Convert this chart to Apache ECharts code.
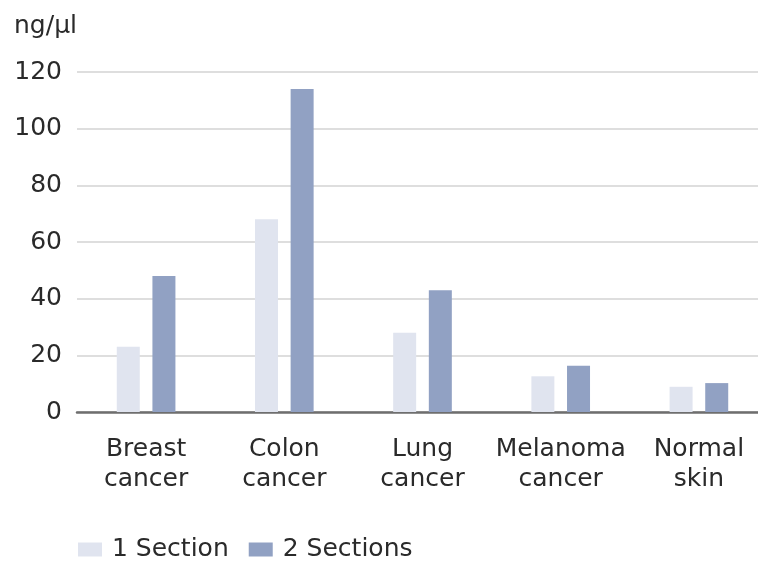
<!DOCTYPE html>
<html>
<head>
<meta charset="utf-8">
<script src="https://cdn.jsdelivr.net/npm/echarts@6/dist/echarts.min.js"></script>
<style>
    html, body { margin: 0; padding: 0; background: #fff; overflow: hidden; }
    /* 图表比窗口略宽，右侧被裁掉，与原图一致 */
    #chart { width: 768px; height: 562px; }
</style>
</head>
<body>
<div id="chart"></div>
<script>
    // 数据
    var categories = ['Breast\ncancer', 'Colon\ncancer', 'Lung\ncancer', 'Melanoma\ncancer', 'Normal\nskin'];
    var oneSection = [23, 68, 28, 12.6, 8.9];
    var twoSections = [48, 114, 43, 16.3, 10.2];
    var yTicks = [0, 20, 40, 60, 80, 100, 120];

    var font = '"DejaVu Sans", sans-serif';
    var textColor = '#2a2a2a';
    var myChart = echarts.init(document.getElementById('chart'));
    var option = {
        animation: false,
        textStyle: { fontFamily: font, color: textColor },
        grid: { left: 77, right: 0, top: 72, bottom: 150 },
        legend: {
            left: 73,
            top: 532,
            itemWidth: 24,
            itemHeight: 14,
            itemGap: 20,
            icon: 'rect',
            textStyle: { fontSize: 25, color: textColor, fontFamily: font, padding: [0, 0, 0, 5] },
            data: ['1 Section', '2 Sections']
        },
        xAxis: {
            type: 'category',
            data: categories,
            axisTick: { show: false },
            axisLine: { lineStyle: { color: '#6e6e6e', width: 2.5 } },
            axisLabel: {
                interval: 0,
                margin: 22,
                fontSize: 25,
                lineHeight: 30,
                color: textColor,
                fontFamily: font
            }
        },
        yAxis: {
            type: 'value',
            min: yTicks[0],
            max: yTicks[yTicks.length - 1],
            interval: 20,
            name: 'ng/μl',
            nameLocation: 'end',
            nameGap: 46,
            nameTextStyle: { fontSize: 25, color: textColor, align: 'right', verticalAlign: 'middle', fontFamily: font },
            axisLine: { show: false },
            axisTick: { show: false },
            splitLine: { lineStyle: { color: '#d3d3d3', width: 1.5 } },
            axisLabel: { fontSize: 25, margin: 15, color: textColor, fontFamily: font }
        },
        series: [{
            name: '1 Section',
            type: 'bar',
            data: oneSection,
            barWidth: 23,
            barGap: '55%',
            itemStyle: { color: '#e0e4ef' }
        }, {
            name: '2 Sections',
            type: 'bar',
            data: twoSections,
            barWidth: 23,
            itemStyle: { color: '#91a1c3' }
        }]
    };
    myChart.setOption(option);
</script>
</body>
</html>
